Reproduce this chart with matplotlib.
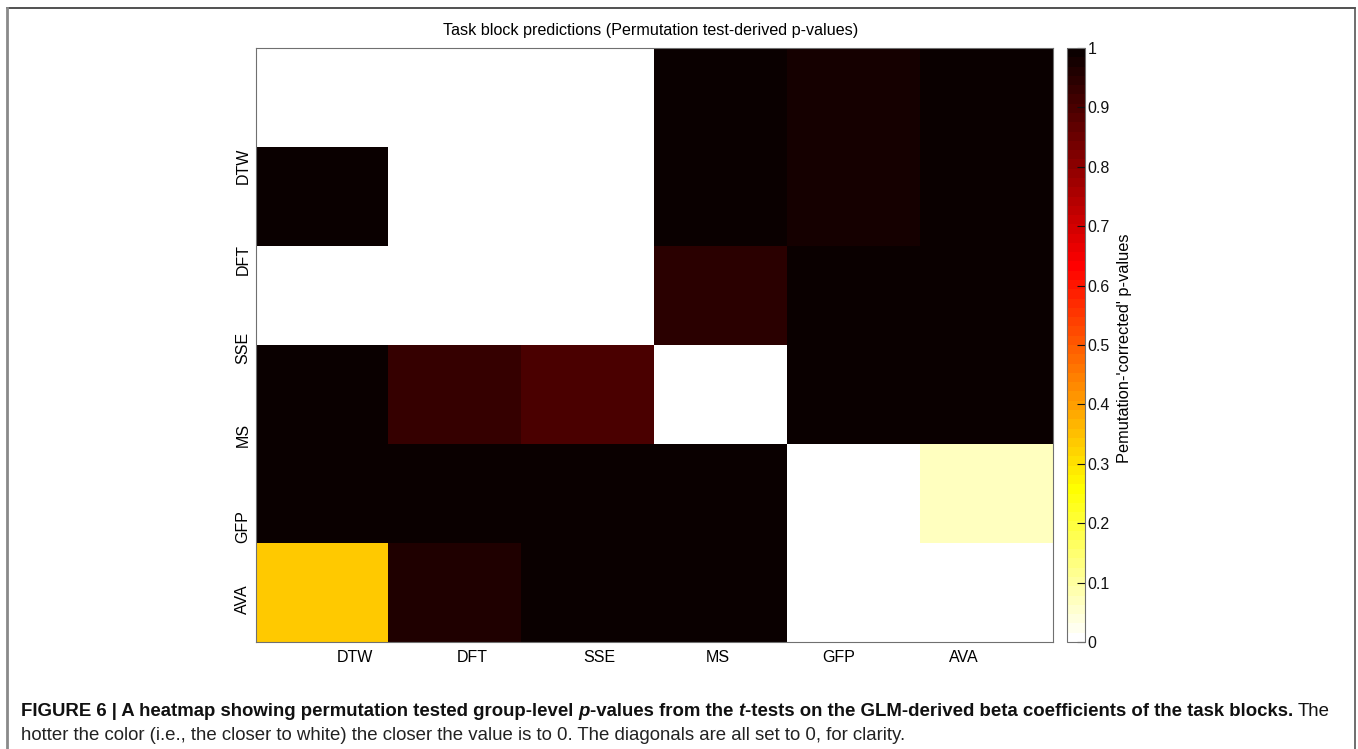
import numpy as np
import matplotlib
matplotlib.use("Agg")
import matplotlib.pyplot as plt
from matplotlib.lines import Line2D

plt.rcParams["font.family"] = ["Liberation Sans", "DejaVu Sans"]

# ---- data -------------------------------------------------------------
tasks = ["DTW", "DFT", "SSE", "MS", "GFP", "AVA"]

# permutation-corrected p-values, one list per row (diagonal set to 0)
p_dtw = [0.0, 0.0, 0.0, 1.0, 0.98, 1.0]
p_dft = [1.0, 0.0, 0.0, 1.0, 0.98, 1.0]
p_sse = [0.0, 0.0, 0.0, 0.953, 1.0, 1.0]
p_ms = [1.0, 0.93, 0.905, 0.0, 1.0, 1.0]
p_gfp = [1.0, 1.0, 1.0, 1.0, 0.0, 0.07]
p_ava = [0.336, 0.965, 1.0, 1.0, 0.0, 0.0]

cbar_ticks = [0, 0.1, 0.2, 0.3, 0.4, 0.5, 0.6, 0.7, 0.8, 0.9, 1]

title = "Task block predictions (Permutation test-derived p-values)"
cbar_label = "Pemutation-'corrected' p-values"

# caption segments: (text, weight, style, space before)
caption_line1 = [
    ("FIGURE 6 | A heatmap showing permutation tested group-level", "bold", "normal", False),
    ("p", "bold", "italic", True),
    ("-values from the", "bold", "normal", False),
    ("t", "bold", "italic", True),
    ("-tests on the GLM-derived beta coefficients of the task blocks.", "bold", "normal", False),
    ("The", "normal", "normal", True),
]
caption_line2 = ("hotter the color (i.e., the closer to white) the closer the value is to 0. "
                 "The diagonals are all set to 0, for clarity.")

# ---- layout -------------------------------------------------------------
W, H = 1358, 749
xtick_pos = [0.746, 1.627, 2.59, 3.48, 4.39, 5.33]
ytick_pos = [1.19, 2.14, 3.03, 3.91, 4.83, 5.57]

fig = plt.figure(figsize=(W / 100, H / 100), dpi=100)

def fx(px):
    return px / W

def fy(py):
    return 1 - py / H

ax_l, ax_r, ax_t, ax_b = 256, 1052.5, 48, 642
ax = fig.add_axes([fx(ax_l), fy(ax_b), fx(ax_r - ax_l), (ax_b - ax_t) / H])

pvals = np.array([p_dtw, p_dft, p_sse, p_ms, p_gfp, p_ava])
cmap = plt.get_cmap("hot_r").resampled(64)
im = ax.imshow(pvals, cmap=cmap, vmin=0, vmax=1, interpolation="nearest",
               extent=(0, len(tasks), len(tasks), 0), aspect="auto")

ax.set_xticks(xtick_pos)
ax.set_xticklabels(tasks, fontsize=11.5)
ax.set_yticks(ytick_pos)
ax.set_yticklabels(tasks, fontsize=11.5, rotation=90, va="center")
ax.tick_params(axis="x", length=0, pad=5.5)
ax.tick_params(axis="y", length=0, pad=4)
for sp in ax.spines.values():
    sp.set_color("#707070")
    sp.set_linewidth(0.8)

# colorbar
cax = fig.add_axes([fx(1067), fy(ax_b), fx(1085 - 1067), (ax_b - ax_t) / H])
cb = fig.colorbar(im, cax=cax, ticks=cbar_ticks)
cb.ax.set_yticklabels([("%g" % t) for t in cbar_ticks], fontsize=11.5)
cb.ax.tick_params(direction="in", length=6, width=0.8, pad=2, colors="#111111")
cb.outline.set_edgecolor("#707070")
cb.outline.set_linewidth(0.8)

fig.text(fx(1124), fy(348), cbar_label, rotation=90, ha="center", va="center",
         fontsize=11.8)

fig.text(fx(650.5), fy(31), title, ha="center", va="center", fontsize=11.6)

# outer frame of the figure panel
fig.add_artist(Line2D([fx(7), fx(1355)], [fy(8), fy(8)], color="#333333", lw=1.2,
                      transform=fig.transFigure))
fig.add_artist(Line2D([fx(7), fx(7)], [fy(8), 0], color="#8a8a8a", lw=2.0,
                      transform=fig.transFigure))
fig.add_artist(Line2D([fx(1355), fx(1355)], [fy(8), 0], color="#555555", lw=1.2,
                      transform=fig.transFigure))

# ---- caption --------------------------------------------------------------
renderer = fig.canvas.get_renderer()

def text_width(s, size, weight="normal", style="normal"):
    t = fig.text(0, 0, s, fontsize=size, fontweight=weight, fontstyle=style)
    w = t.get_window_extent(renderer).width
    t.remove()
    return w

def line_width(segs, size):
    total = 0.0
    for s, wgt, sty, sp in segs:
        if sp:
            total += text_width("x x", size, wgt, sty) - text_width("xx", size, wgt, sty)
        total += text_width(s, size, wgt, sty)
    return total

cap_left, cap_right = 21, 1339
base = 10.5
size = base * (cap_right - cap_left) / line_width(caption_line1, base)

x = cap_left
for s, wgt, sty, sp in caption_line1:
    if sp:
        x += text_width("x x", size, wgt, sty) - text_width("xx", size, wgt, sty)
    fig.text(fx(x), fy(716), s, fontsize=size, fontweight=wgt, fontstyle=sty,
             ha="left", va="baseline", color="#111111")
    x += text_width(s, size, wgt, sty)

fig.text(fx(cap_left), fy(740), caption_line2, fontsize=size, ha="left",
         va="baseline", color="#222222")

fig.savefig("out.png", dpi=100)
